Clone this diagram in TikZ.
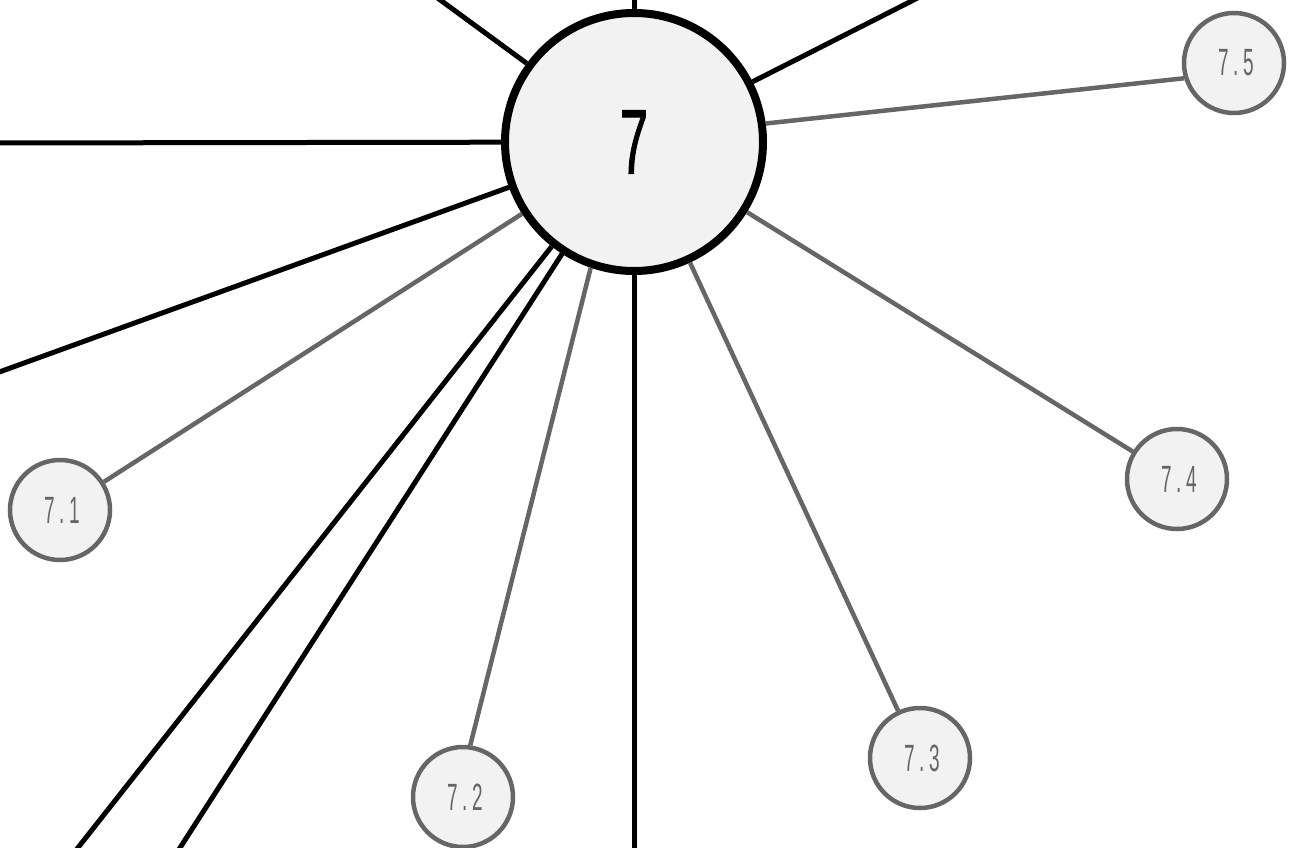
\documentclass[tikz,border=0pt]{standalone}
\usepackage{fontspec}
\newfontfamily\labelfont[FakeStretch=0.5,LetterSpace=12]{Liberation Sans}
\newfontfamily\hubfont[FakeStretch=0.55,FakeBold=1]{Liberation Sans}
\usetikzlibrary{positioning}
\definecolor{nodefill}{HTML}{F2F2F2}
\definecolor{twiggray}{HTML}{666666}
\begin{document}
\begin{tikzpicture}[x=1pt,y=-1pt,
    hub/.style={draw,circle,line width=8pt,fill=nodefill,minimum size=258pt,inner sep=0pt,font=\hubfont\fontsize{92}{92}\selectfont},
    leaf/.style={draw=twiggray,circle,line width=4.5pt,fill=nodefill,minimum size=100pt,inner sep=0pt,text=twiggray,font=\labelfont\fontsize{38}{38}\selectfont},
    spoke/.style={line width=5pt},
    twig/.style={twiggray,line width=4.5pt}]
    \useasboundingbox (0,0) rectangle (1294,848);
    \clip (0,0) rectangle (1294,848);
    \node [hub] (c7) at (634,142) {7};
    \node [leaf] (n71) at (60,510) {\hspace{4pt}7.1};
    \node [leaf] (n72) at (463,797) {\hspace{4pt}7.2};
    \node [leaf] (n73) at (920,758) {\hspace{4pt}7.3};
    \node [leaf] (n74) at (1177,479) {\hspace{4pt}7.4};
    \node [leaf] (n75) at (1234,63) {\hspace{4pt}7.5};
    % spokes running off the page
    \coordinate (up) at (634,-20);
    \coordinate (upleft) at (413,-20);
    \coordinate (upright) at (953,-20);
    \coordinate (left) at (-20,143);
    \coordinate (leftlow) at (-20,379);
    \coordinate (downleftA) at (62,868);
    \coordinate (downleftB) at (167,868);
    \coordinate (down) at (634,868);
    \foreach \p in {up,upleft,upright,left,leftlow,downleftA,downleftB,down}
        \draw [spoke] (c7) -- (\p);
    \foreach \q in {n71,n73,n74}
        \draw [twig] (c7) -- (\q);
    \draw [twig] (c7.-109) -- (n72.82);
    \draw [twig] (c7.8) -- (n75.197);
\end{tikzpicture}
\end{document}
